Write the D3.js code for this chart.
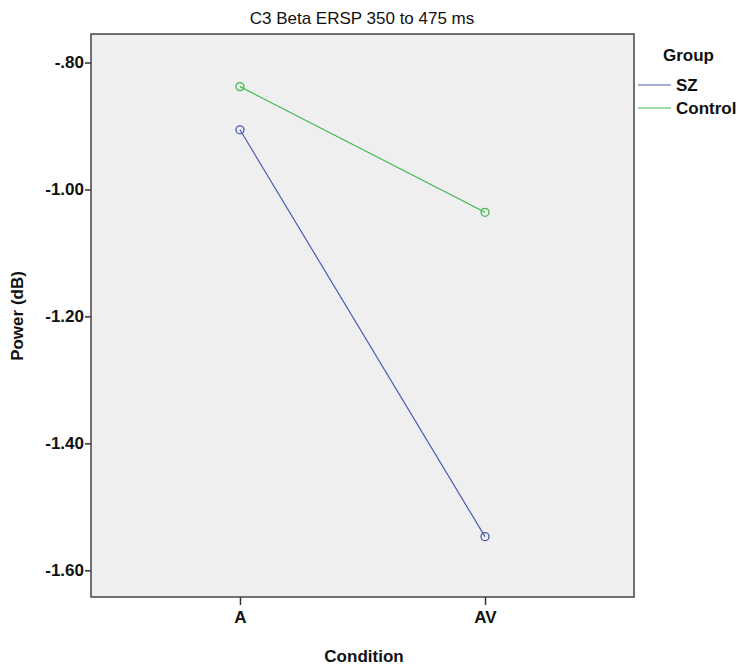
<!DOCTYPE html>
<html>
<head>
<meta charset="utf-8">
<script src="https://cdn.jsdelivr.net/npm/d3@7"></script>
<style>
  body { margin: 0; background: #fff; }
  text { font-family: "Liberation Sans", Arial, sans-serif; }
</style>
</head>
<body>
<div id="chart"></div>
<script>
var conditions = ["A", "AV"];
var groups = ["SZ", "Control"];
var sz_values = [-0.906, -1.547];
var control_values = [-0.838, -1.036];
var y_ticks = [-0.80, -1.00, -1.20, -1.40, -1.60];
var group_colors = ["#4a5bb0", "#3fb94f"];

var width = 742, height = 668;
var plot = {left: 91, right: 634, top: 34, bottom: 597};
var label_size = 17;

var svg = d3.select("#chart")
    .append("svg")
    .attr("width", width)
    .attr("height", height);

// frame background
svg.append("rect")
    .attr("x", plot.left)
    .attr("y", plot.top)
    .attr("width", plot.right - plot.left)
    .attr("height", plot.bottom - plot.top)
    .attr("fill", "#efefef");

var x = d3.scalePoint()
    .domain(conditions)
    .range([plot.left, plot.right])
    .padding(0.608);

var y = d3.scaleLinear()
    .domain([-1.6421, -0.7551])
    .range([plot.bottom, plot.top]);

function fmt(v) {
    // SPSS style: "-.80", "-1.00" with a plain hyphen
    var s = d3.format(".2f")(v).replace("\u2212", "-");
    return s.replace("-0.", "-.");
}

// y axis
var yAxis = svg.append("g")
    .attr("transform", "translate(" + plot.left + ",0)")
    .call(d3.axisLeft(y).tickValues(y_ticks).tickFormat(fmt).tickSize(6).tickPadding(1));
yAxis.select(".domain").remove();
yAxis.selectAll("line").attr("stroke", "#333").attr("stroke-width", 1.5);
yAxis.selectAll("text")
    .attr("font-size", label_size)
    .attr("font-weight", "bold")
    .attr("fill", "#111");

// x axis
var xAxis = svg.append("g")
    .attr("transform", "translate(0," + plot.bottom + ")")
    .call(d3.axisBottom(x).tickSize(8).tickPadding(6));
xAxis.select(".domain").remove();
xAxis.selectAll("line").attr("stroke", "#333").attr("stroke-width", 1.5);
xAxis.selectAll("text")
    .attr("font-size", label_size)
    .attr("font-weight", "bold")
    .attr("fill", "#111");

// frame border
svg.append("rect")
    .attr("x", plot.left)
    .attr("y", plot.top)
    .attr("width", plot.right - plot.left)
    .attr("height", plot.bottom - plot.top)
    .attr("fill", "none")
    .attr("stroke", "#444")
    .attr("stroke-width", 1.5);

// lines + markers
var series = [sz_values, control_values];
var line = d3.line()
    .x(function (d, i) { return x(conditions[i]); })
    .y(function (d) { return y(d); });

series.forEach(function (vals, gi) {
    svg.append("path")
        .datum(vals)
        .attr("d", line)
        .attr("fill", "none")
        .attr("stroke", group_colors[gi])
        .attr("stroke-width", 1.2);

    svg.selectAll(".pt" + gi)
        .data(vals)
        .enter()
        .append("circle")
        .attr("class", "pt" + gi)
        .attr("cx", function (d, i) { return x(conditions[i]); })
        .attr("cy", function (d) { return y(d); })
        .attr("r", 4)
        .attr("fill", "none")
        .attr("stroke", group_colors[gi])
        .attr("stroke-width", 1.3);
});

// title
svg.append("text")
    .attr("x", 362)
    .attr("y", 24)
    .attr("text-anchor", "middle")
    .attr("font-size", 17)
    .attr("fill", "#111")
    .text("C3 Beta ERSP 350 to 475 ms");

// axis titles
svg.append("text")
    .attr("x", 364)
    .attr("y", 662)
    .attr("text-anchor", "middle")
    .attr("font-size", label_size)
    .attr("font-weight", "bold")
    .attr("fill", "#111")
    .text("Condition");

svg.append("text")
    .attr("transform", "translate(23,316) rotate(-90)")
    .attr("text-anchor", "middle")
    .attr("font-size", label_size)
    .attr("font-weight", "bold")
    .attr("fill", "#111")
    .text("Power (dB)");

// legend
svg.append("text")
    .attr("x", 663)
    .attr("y", 61)
    .attr("font-size", label_size)
    .attr("font-weight", "bold")
    .attr("fill", "#111")
    .text("Group");

var leg = svg.selectAll(".leg")
    .data(groups)
    .enter()
    .append("g")
    .attr("class", "leg")
    .attr("transform", function (d, i) { return "translate(638," + (85 + i * 23) + ")"; });

leg.append("line")
    .attr("x1", 0).attr("x2", 33)
    .attr("y1", 0).attr("y2", 0)
    .attr("stroke", function (d, i) { return group_colors[i]; })
    .attr("stroke-width", 1.2);

leg.append("text")
    .attr("x", 38)
    .attr("y", 6)
    .attr("font-size", label_size)
    .attr("font-weight", "bold")
    .attr("fill", "#111")
    .text(function (d) { return d; });
</script>
</body>
</html>
